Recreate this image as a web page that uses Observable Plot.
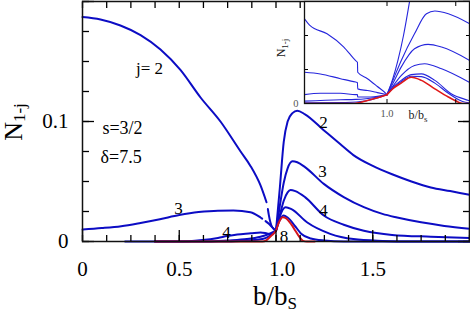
<!DOCTYPE html>
<html><head><meta charset="utf-8">
<script src="https://cdn.jsdelivr.net/npm/d3@7"></script>
<script src="https://cdn.jsdelivr.net/npm/@observablehq/plot@0.6"></script>
<style>
html,body{margin:0;padding:0;background:#fff;font-size:14px}
#wrap{position:relative;width:470px;height:313px;}
#xtitle{position:absolute;left:253px;top:283px;font-family:'Liberation Serif';font-size:27px;line-height:27px;white-space:nowrap;color:#000;}
#xtitle span{font-size:17px;position:relative;top:4px;}
#inset{position:absolute;left:270px;top:0;}
</style></head>
<body><div id="wrap"><div id="xtitle">b/b<span>S</span></div><div id="main"></div><div id="inset"></div></div>
<script>
// ---------- main panel data: [b/bS, N_{1-j}] ----------
const j2Left = [[0,0.187],[0.093,0.185],[0.196,0.180],[0.30,0.172],[0.403,0.160],[0.506,0.143],[0.61,0.120],[0.713,0.100],[0.817,0.075],[0.868,0.063],[0.92,0.0467],[0.951,0.0327],null,[0.958,0.027],[0.963,0.022],[0.98,0.012],[1.0,0.009]];
const j2Right = [[1.0,0.009],[1.02,0.045],[1.04,0.083],[1.06,0.100],[1.085,0.107],[1.11,0.109],[1.15,0.106],[1.245,0.093],[1.333,0.081],[1.40,0.072],[1.5,0.063],[1.6,0.056],[1.7,0.050],[1.8,0.045],[1.9,0.042],[2.0,0.039]];
const j3Left = [[0,0.010],[0.1,0.0112],[0.2,0.0128],[0.3,0.0155],[0.4,0.0186],[0.5,0.022],[0.6,0.0245],[0.7,0.0257],[0.78,0.0258],[0.868,0.0244],[0.92,0.020],[0.929,0.019],null,[0.946,0.017],[0.963,0.0147],[0.98,0.012],[1.0,0.009]];
const j3Right = [[1.0,0.009],[1.02,0.030],[1.04,0.049],[1.06,0.061],[1.085,0.0668],[1.11,0.066],[1.15,0.062],[1.247,0.048],[1.35,0.037],[1.454,0.0286],[1.55,0.023],[1.626,0.020],[1.75,0.016],[1.87,0.013],[2.0,0.0106]];
const j4Left = [[0.22,0],[0.45,0],[0.55,0.0003],[0.62,0.0012],[0.7,0.003],[0.748,0.0045],[0.8,0.0058],[0.87,0.0068],[0.92,0.0076],[0.95,0.0068],[0.97,0.0060],[1.0,0.009]];
const j4Right = [[1.0,0.009],[1.02,0.022],[1.04,0.034],[1.06,0.041],[1.075,0.043],[1.1,0.042],[1.15,0.037],[1.247,0.0217],[1.35,0.014],[1.454,0.009],[1.6,0.0055],[1.8,0.004],[2.0,0.003]];
const j5Left = [[0.374,0],[0.65,0],[0.75,0.0008],[0.85,0.002],[0.92,0.004],[0.96,0.006],[1.0,0.009]];
const j5Right = [[1.0,0.009],[1.02,0.021],[1.05,0.0286],[1.08,0.027],[1.16,0.016],[1.28,0.0064],[1.4,0.002],[1.55,0.0005],[1.7,0],[2.0,0]];
const j6Left = [[0.374,0],[0.75,0],[0.85,0.0008],[0.93,0.002],[0.97,0.005],[1.0,0.009]];
const j6Right = [[1.0,0.009],[1.02,0.018],[1.04,0.0217],[1.06,0.020],[1.1,0.0125],[1.13,0.0065],[1.18,0.0025],[1.25,0.0008],[1.35,0],[2.0,0]];
const jInfLeft = [[0.374,0],[0.93,0],[0.95,0.001],[0.97,0.004],[0.99,0.007],[1.0,0.009]];
const jInfRight = [[1.0,0.009],[1.015,0.016],[1.035,0.0203],[1.055,0.019],[1.08,0.014],[1.10,0.009],[1.12,0.004],[1.14,0.0005],[1.16,0],[1.2,0]];

// ---------- main panel text ----------
const jLabelText = ["j= 2","3","4","2","3","4","8"];
const jLabelB = [0.346,0.496,0.744,1.245,1.240,1.245,1.041];
const jLabelN = [0.144,0.0274,0.0075,0.099,0.058,0.026,0.004];
const paramText = ["s=3/2","δ=7.5"];
const paramB = [0.103,0.093];
const paramN = [0.094,0.070];
const xTickValues = [0,0.5,1.0,1.5];
const xTickLabels = ["0","0.5","1.0","1.5"];
const yTickValues = [0,0.1];
const yTickLabels = ["0","0.1"];
const xMinor = d3.range(0,2.0001,0.125);
const xMajor = [0,0.5,1,1.5,2];
const yMinor = d3.range(0,0.2001,0.025);
const yMajor = [0,0.1,0.2];

// ---------- inset data ----------
const insA_L = [[0.4,2.49],[0.441,2.29],[0.564,2.05],[0.686,1.66],[0.772,1.26],[0.785,1.21],[0.787,0.92],[0.858,0.73],[0.93,0.5],[0.993,0.29],[1.0,0.26]];
const insA_R = [[1.0,0.26],[1.04,0.7],[1.079,1.26],[1.12,2.0],[1.164,3.0]];
const insB_L = [[0.4,0.92],[0.515,0.87],[0.662,0.73],[0.772,0.63],[0.785,0.62],[0.787,0.43],[0.858,0.38],[0.93,0.32],[1.0,0.26]];
const insB_R = [[1.0,0.26],[1.05,0.75],[1.103,1.26],[1.2,2.05],[1.287,2.64],[1.348,2.72],[1.446,2.64],[1.6,2.35]];
const insC_L = [[0.4,0.26],[0.515,0.30],[0.662,0.30],[0.772,0.26],[0.785,0.26],[0.787,0.19],[0.882,0.19],[1.0,0.26]];
const insC_R = [[1.0,0.26],[1.05,0.65],[1.103,1.07],[1.2,1.61],[1.299,1.74],[1.397,1.66],[1.6,1.27]];
const insD_L = [[0.4,0.07],[0.662,0.11],[0.772,0.12],[0.904,0.17],[1.0,0.26]];
const insD_R = [[1.0,0.26],[1.05,0.55],[1.103,0.82],[1.2,1.12],[1.274,1.17],[1.397,1.02],[1.6,0.62]];
const insE_L = [[0.4,0.02],[0.7,0.03],[0.85,0.08],[0.93,0.16],[1.0,0.26]];
const insE_R = [[1.0,0.26],[1.05,0.5],[1.103,0.68],[1.176,0.85],[1.25,0.87],[1.348,0.68],[1.47,0.28],[1.593,0.09],[1.6,0.08]];
const insF_R = [[1.0,0.26],[1.05,0.48],[1.103,0.64],[1.176,0.80],[1.25,0.79],[1.348,0.6],[1.446,0.3],[1.55,0.06],[1.6,0.02]];
const insInf_L = [[0.4,0],[0.75,0],[0.858,0.09],[0.932,0.17],[1.0,0.26]];
const insInf_R = [[1.0,0.26],[1.05,0.46],[1.103,0.6],[1.176,0.77],[1.25,0.68],[1.348,0.43],[1.446,0.19],[1.52,0.04],[1.55,0],[1.6,0]];

// ---------- build tables ----------
function rows(series) {
  const out = [];
  series.forEach(([key, arr]) => arr.forEach(p => out.push(p == null ? {b: NaN, n: NaN, k: key} : {b: p[0], n: p[1], k: key})));
  return out;
}
const mainBlue = rows([["j2L",j2Left],["j2R",j2Right],["j3L",j3Left],["j3R",j3Right],["j4L",j4Left],["j4R",j4Right],["j5L",j5Left],["j5R",j5Right],["j6L",j6Left],["j6R",j6Right]]);
const mainRed = rows([["infL",jInfLeft],["infR",jInfRight]]);
const insBlue = rows([["AL",insA_L],["AR",insA_R],["BL",insB_L],["BR",insB_R],["CL",insC_L],["CR",insC_R],["DL",insD_L],["DR",insD_R],["EL",insE_L],["ER",insE_R],["FR",insF_R]]);
const insRed = rows([["IL",insInf_L],["IR",insInf_R]]);
const jLabels = jLabelText.map((t,i) => ({t, b: jLabelB[i], n: jLabelN[i]}));
const params = paramText.map((t,i) => ({t, b: paramB[i], n: paramN[i]}));

const FONT = "Liberation Serif";
const BLUE = "#0c0cc4", RED = "#d5141c";
const IBLUE = "#2626dc", IRED = "#e01818";
const fmtX = d => xTickLabels[xTickValues.indexOf(d)];
const fmtY = d => yTickLabels[yTickValues.indexOf(d)];
const blank = () => "";

const main = Plot.plot({
  width: 470, height: 313,
  marginLeft: 82, marginRight: 1, marginTop: 1, marginBottom: 72,
  x: {domain: [0, 2], label: null},
  y: {domain: [0, 0.2], label: null},
  style: {fontFamily: FONT, fontSize: "16px", background: "transparent", color: "#000"},
  marks: [
    Plot.line(mainBlue, {x: "b", y: "n", z: "k", stroke: BLUE, strokeWidth: 2, curve: "monotone-x"}),
    Plot.line(mainRed, {x: "b", y: "n", z: "k", stroke: RED, strokeWidth: 2, curve: "monotone-x"}),
    Plot.axisX({anchor: "bottom", ticks: xMinor, tickSize: -6, tickFormat: blank, label: null, strokeWidth: 1.3}),
    Plot.axisX({anchor: "bottom", ticks: xMajor, tickSize: -11, tickFormat: blank, label: null, strokeWidth: 1.3}),
    Plot.axisX({anchor: "top", ticks: xMinor, tickSize: -6, tickFormat: blank, label: null, strokeWidth: 1.3}),
    Plot.axisY({anchor: "left", ticks: yMinor, tickSize: -7, tickFormat: blank, label: null, strokeWidth: 1.3}),
    Plot.axisY({anchor: "left", ticks: yMajor, tickSize: -12, tickFormat: blank, label: null, strokeWidth: 1.3}),
    Plot.axisY({anchor: "right", ticks: yMinor, tickSize: -7, tickFormat: blank, label: null, strokeWidth: 1.3}),
    Plot.axisY({anchor: "right", ticks: yMajor, tickSize: -12, tickFormat: blank, label: null, strokeWidth: 1.3}),
    Plot.axisX({anchor: "bottom", ticks: [0, 0.5, 1.5], tickSize: 0, tickPadding: 20, fontSize: 21, tickFormat: fmtX, label: null}),
    Plot.axisX({anchor: "bottom", ticks: [1.0], tickSize: 0, tickPadding: 20, fontSize: 21, dx: 6, tickFormat: fmtX, label: null}),
    Plot.axisY({anchor: "left", ticks: yTickValues, tickSize: 0, tickPadding: 14, fontSize: 21, tickFormat: fmtY, label: null}),
    Plot.text(jLabels, {x: "b", y: "n", text: "t", fontSize: 17, fill: "#000"}),
    Plot.text(params, {x: "b", y: "n", text: "t", fontSize: 18, textAnchor: "start", fill: "#000"}),
    Plot.frame({stroke: "#111", strokeWidth: 1.5})
  ]
});
document.getElementById("main").appendChild(main);
{
  const s = d3.select(main);
  const yt = s.append("text").attr("transform", "translate(22,122) rotate(-90)").attr("text-anchor", "middle")
    .attr("font-family", FONT).attr("font-size", 26).attr("fill", "#000");
  yt.append("tspan").text("N");
  yt.append("tspan").attr("font-size", 17).attr("dy", 3).text("1-j");
}

const inset = Plot.plot({
  width: 200, height: 125,
  marginLeft: 34, marginRight: 1, marginTop: 1, marginBottom: 22,
  x: {domain: [0.4, 1.6], label: null},
  y: {domain: [0, 3], label: null},
  style: {fontFamily: FONT, fontSize: "12px", background: "transparent", color: "#000"},
  marks: [
    Plot.frame({fill: "white", stroke: "none"}),
    Plot.line(insBlue, {x: "b", y: "n", z: "k", stroke: IBLUE, strokeWidth: 1.1, curve: "monotone-x", clip: true}),
    Plot.line(insRed, {x: "b", y: "n", z: "k", stroke: IRED, strokeWidth: 1.6, curve: "monotone-x", clip: true}),
    Plot.axisX({anchor: "bottom", ticks: [1, 1.5], tickSize: -4, tickFormat: blank, label: null}),
    Plot.axisX({anchor: "top", ticks: [1, 1.5], tickSize: -4, tickFormat: blank, label: null}),
    Plot.axisY({anchor: "left", ticks: [1, 2], tickSize: -4, tickFormat: blank, label: null}),
    Plot.axisY({anchor: "right", ticks: [1, 2], tickSize: -4, tickFormat: blank, label: null}),
    Plot.axisX({anchor: "bottom", ticks: [1], tickSize: 0, tickPadding: 6, fontSize: 10.5, fill: "#555", tickFormat: () => "1.0", label: null}),
    Plot.axisY({anchor: "left", ticks: [0], tickSize: 0, tickPadding: 6, fontSize: 10.5, fill: "#555", tickFormat: () => "0", label: null}),
    Plot.frame({stroke: "#111", strokeWidth: 1.3})
  ]
});
document.getElementById("inset").appendChild(inset);
{
  const s = d3.select(inset);
  const xt = s.append("text").attr("x", 148).attr("y", 119).attr("font-family", FONT).attr("font-size", 12).attr("fill", "#222");
  xt.append("tspan").text("b/b");
  xt.append("tspan").attr("font-size", 9).attr("dy", 3).text("s");
  const yt = s.append("text").attr("transform", "translate(15,48) rotate(-90)").attr("text-anchor", "middle")
    .attr("font-family", FONT).attr("font-size", 12).attr("fill", "#222");
  yt.append("tspan").text("N");
  yt.append("tspan").attr("font-size", 9).attr("dy", 3).text("1-j");
}
</script></body></html>
